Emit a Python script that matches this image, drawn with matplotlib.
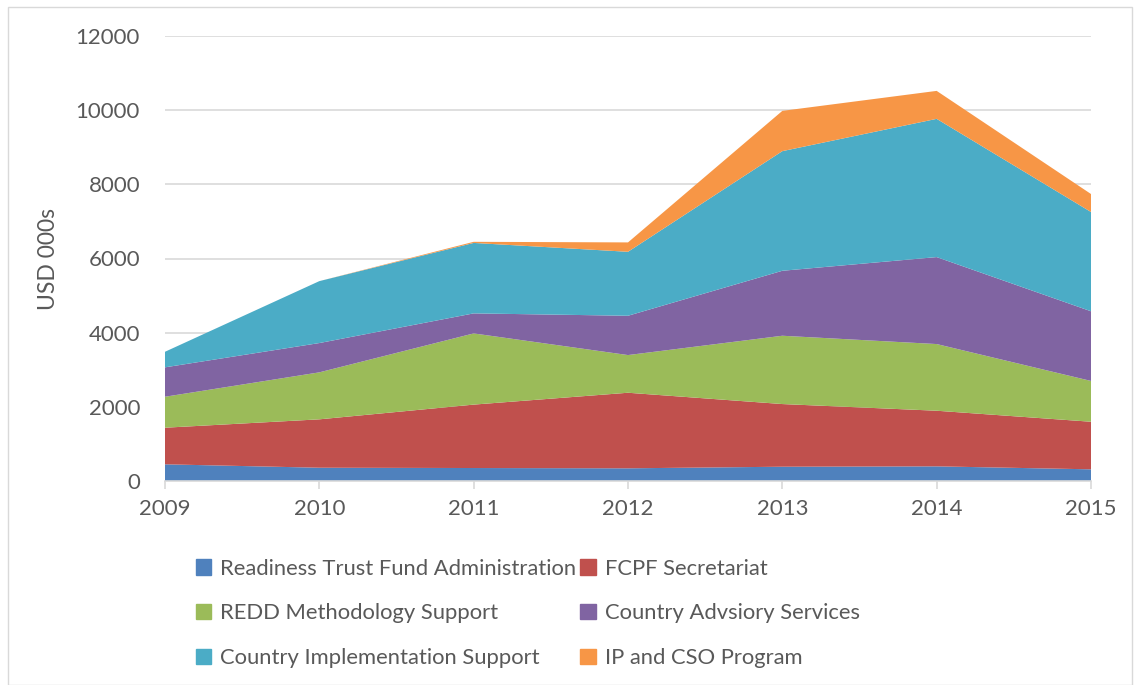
import numpy as np
from matplotlib import pyplot as plt
from matplotlib.patches import Patch, Rectangle

years = [2009, 2010, 2011, 2012, 2013, 2014, 2015]
labels = ['Readiness Trust Fund Administration', 'FCPF Secretariat',
          'REDD Methodology Support', 'Country Advsiory Services',
          'Country Implementation Support', 'IP and CSO Program']
colors = ['#4f81bd', '#c0504d', '#9bbb59', '#8064a2', '#4bacc6', '#f79646']

admin = [450, 358, 350, 342, 385, 395, 315]
secretariat = [987, 1305, 1710, 2038, 1690, 1500, 1283]
redd = [835, 1267, 1920, 1016, 1842, 1798, 1100]
advisory = [793, 790, 540, 1060, 1752, 2345, 1879]
implementation = [420, 1670, 1900, 1725, 3226, 3728, 2677]
ip_cso = [0, 0, 30, 253, 1086, 754, 485]

series = [admin, secretariat, redd, advisory, implementation, ip_cso]

plt.rcParams['font.family'] = ['Lato', 'DejaVu Sans']
txt = '#595959'
fs = 16

fig = plt.figure(figsize=(11.4, 6.85), dpi=100)
ax = fig.add_axes([165 / 1140, 1 - 481 / 685, (1091 - 165) / 1140, (481 - 36) / 685])

ax.stackplot(years, *series, colors=colors, lw=0)

ax.set_xlim(2009, 2015)
ax.set_ylim(0, 12000)
ax.set_yticks(np.arange(0, 12001, 2000))
ax.set_xticks(years)
ax.grid(axis='y', color='#d9d9d9', lw=1.2)
ax.set_axisbelow(True)
for s in ['top', 'right', 'left']:
    ax.spines[s].set_visible(False)
ax.spines['bottom'].set_color('#d9d9d9')
ax.spines['bottom'].set_linewidth(1.2)
ax.tick_params(axis='y', length=0, labelsize=fs, labelcolor=txt, pad=18)
ax.tick_params(axis='x', length=6, color='#d9d9d9', width=1.2, labelsize=fs,
               labelcolor=txt, pad=7)
ax.set_ylabel('USD 000s', fontsize=16.5, color=txt, labelpad=12)

# chart area border
fig.patches.append(Rectangle((8 / 1140, 0), 1 - 16 / 1140, 1 - 7 / 685,
                             transform=fig.transFigure, fill=False,
                             ec='#d9d9d9', lw=1))

order = [0, 2, 4, 1, 3, 5]
handles = [Patch(color=colors[i]) for i in order]
fig.legend(handles, [labels[i] for i in order], ncol=2, loc='upper left',
           bbox_to_anchor=(176 / 1140, 1 - 539 / 685), frameon=False,
           fontsize=15.8, labelcolor=txt, handlelength=0.7, handleheight=0.7,
           handletextpad=0.4, columnspacing=0.2, labelspacing=1.12)

fig.savefig('out.png', dpi=100)
